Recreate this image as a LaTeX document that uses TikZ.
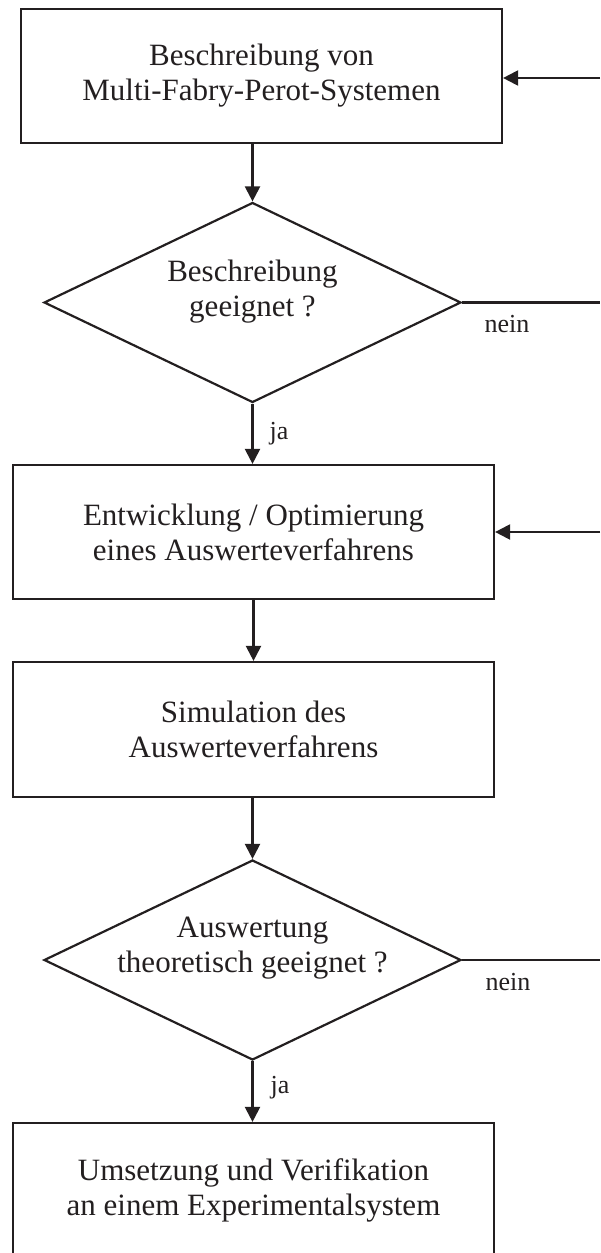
\documentclass[tikz,border=0pt]{standalone}
\usepackage{fontspec}
\setmainfont{Liberation Serif}
\usetikzlibrary{shapes.geometric,arrows.meta}
\definecolor{ink}{RGB}{35,31,32}
\begin{document}
\begin{tikzpicture}[x=1pt,y=-1pt,
 box/.style={draw=ink,line width=2.2pt,rectangle,minimum width=481pt,minimum height=134pt,inner sep=0pt,align=center,font=\fontsize{31}{35}\selectfont,text=ink},
 dia/.style={draw=ink,line width=2.2pt,diamond,minimum width=417pt,minimum height=200pt,inner sep=0pt,aspect=2.085},
 lbl/.style={font=\fontsize{31}{35}\selectfont,text=ink,align=center},
 small/.style={font=\fontsize{26}{30}\selectfont,text=ink},
 conn/.style={draw=ink,line width=2.2pt},
 arr/.style={conn,-{Triangle[length=15pt,width=15pt]}}]
\useasboundingbox (0,0) rectangle (600,1253);
\clip (0,0) rectangle (600,1253);
\coordinate (edge) at (600,0);
\node[box] (b1) at (261.5,76) {Beschreibung von\\Multi-Fabry-Perot-Systemen};
\node[dia] (d1) at (252.5,302.5) {};
\node[lbl] (t1) at (252.5,292) {Beschreibung\\geeignet ?};
\node[box] (b2) at (253.5,532) {Entwicklung / Optimierung\\eines Auswerteverfahrens};
\node[box,minimum height=135pt] (b3) at (253.5,729.5) {Simulation des\\Auswerteverfahrens};
\node[dia] (d2) at (252.5,960) {};
\node[lbl] (t2) at (252.5,948) {Auswertung\\theoretisch geeignet ?};
\node[box,minimum height=135pt] (b4) at (253.5,1190.5) {Umsetzung und Verifikation\\an einem Experimentalsystem};
\coordinate (r1) at (600,78);
\coordinate (r2) at (600,532);
% main flow
\draw[arr] (b1.south -| d1.north) -- (d1.north);
\draw[arr] (d1.south) -- (d1.south |- b2.north);
\draw[arr] (b2.south) -- (b3.north);
\draw[arr] (b3.south -| d2.north) -- (d2.north);
\draw[arr] (d2.south) -- (d2.south |- b4.north);
% feedback
\draw[arr] (r1) -- (r1 -| b1.east);
\draw[arr] (r2) -- (r2 -| b2.east);
\draw[conn] (d1.east) -- (d1.east -| edge);
\draw[conn] (d2.east) -- (d2.east -| edge);
% labels
\node[small] (nein1) at (507,324) {nein};
\node[small] (nein2) at (508,982) {nein};
\node[small] (ja1) at (279,434) {ja};
\node[small] (ja2) at (280,1088) {ja};
\end{tikzpicture}
\end{document}
